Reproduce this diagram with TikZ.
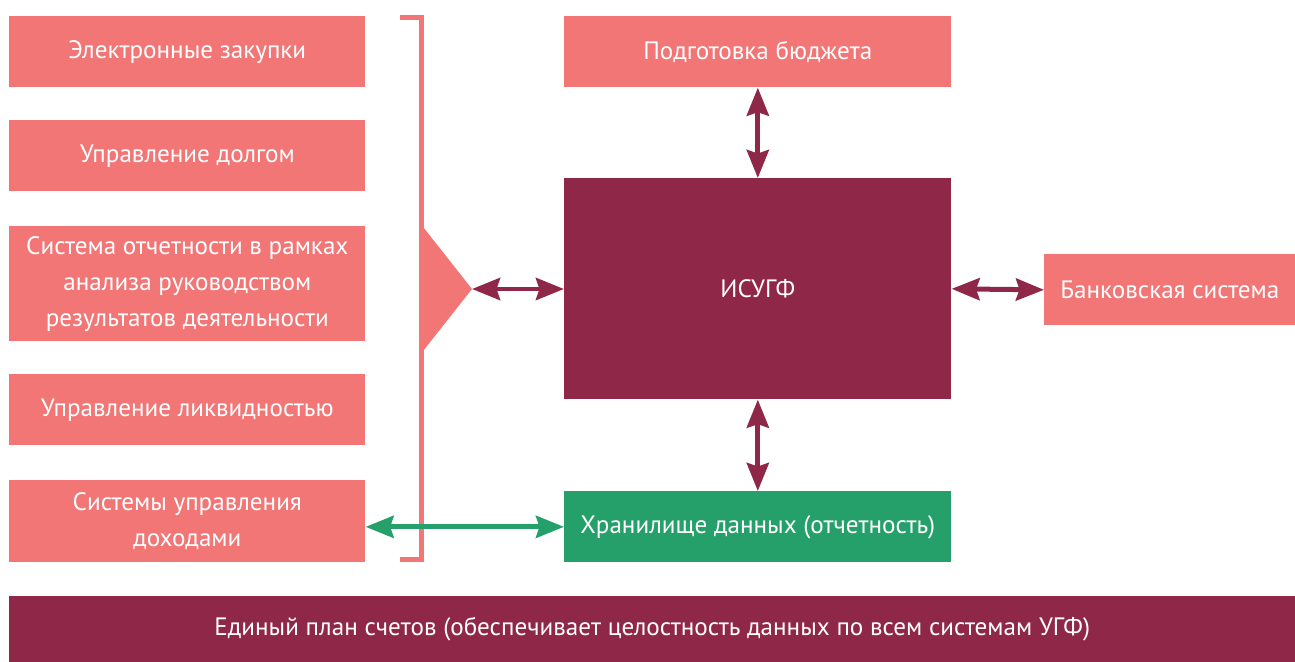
\documentclass[tikz,border=0pt]{standalone}
\usepackage{fontspec}
\setmainfont{PT Sans}
\usetikzlibrary{positioning}
\usetikzlibrary{arrows.meta}
\definecolor{salmon}{RGB}{242,118,118}
\definecolor{maroon}{RGB}{143,40,72}
\definecolor{jade}{RGB}{38,160,106}

\begin{document}
\begin{tikzpicture}[x=0.02cm,y=-0.02cm]
\useasboundingbox (0,0) rectangle (1295,662);
\tikzstyle{box}=[anchor=north west,inner sep=0pt,text=white,align=center,font=\fontsize{14.3}{20.5}\selectfont]
\tikzstyle{leftbox}=[box,fill=salmon,minimum width=7.12cm,minimum height=1.42cm]
\tikzstyle{twoway}=[line width=0.1cm,{Stealth[length=0.56cm,width=0.44cm,inset=0.07cm]}-{Stealth[length=0.56cm,width=0.44cm,inset=0.07cm]}]
% left column
\node [leftbox] (zakupki) at (9,16) {Электронные закупки};
\node [leftbox] (dolg) at (9,120) {Управление долгом};
\node [leftbox,minimum height=2.3cm] (otchet) at (9,226) {Система отчетности в рамках\\анализа руководством\\результатов деятельности};
\node [leftbox] (likvid) at (9,374) {Управление ликвидностью};
\node [leftbox,minimum height=1.64cm] (dohody) at (9,480) {Системы управления\\доходами};
% bracket
\draw [salmon,line width=0.1cm] (400,18) -- (421.5,18) -- (421.5,559) -- (400,559);
\fill [salmon] (421.5,225) -- (472,289) coordinate (tip) -- (421.5,353) -- cycle;
% right side
\node [box,fill=salmon,minimum width=7.74cm,minimum height=1.42cm] (budget) at (564,16) {Подготовка бюджета};
\node [box,fill=maroon,minimum width=7.74cm,minimum height=4.42cm] (isugf) at (564,178) {ИСУГФ};
\node [box,fill=jade,minimum width=7.74cm,minimum height=1.42cm] (hran) at (564,491) {Хранилище данных (отчетность)};
\node [box,fill=salmon,minimum width=5.02cm,minimum height=1.42cm] (bank) at (1044,254) {Банковская система};
\node [box,fill=maroon,minimum width=25.72cm,minimum height=1.32cm] (plan) at (9,596) {Единый план счетов (обеспечивает целостность данных по всем системам УГФ)};
% arrows
\draw [twoway,maroon] (budget.south) -- (isugf.north);
\draw [twoway,maroon] (isugf.south) -- (hran.north);
\draw [twoway,maroon] (tip) -- (tip -| isugf.west);
\draw [twoway,maroon] (isugf.east) -- (bank.west);
\draw [twoway,jade] (dohody.east |- hran.west) -- (hran.west);
\end{tikzpicture}
\end{document}
